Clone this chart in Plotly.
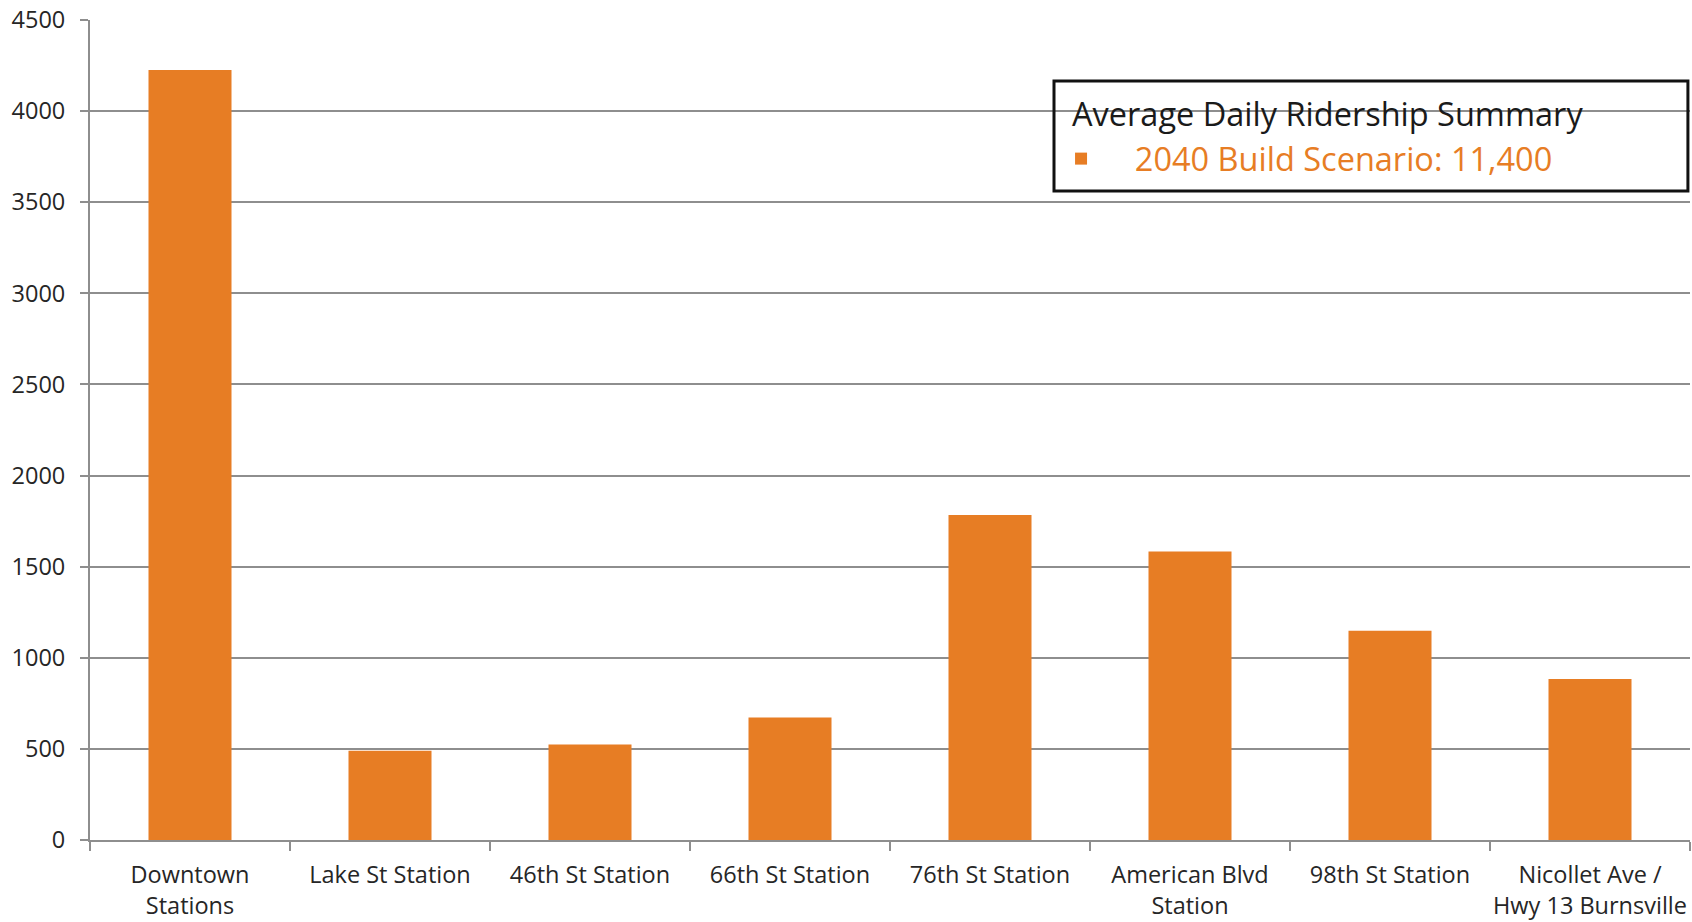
import plotly.graph_objects as go

stations = ["Downtown Stations", "Lake St Station", "46th St Station", "66th St Station",
            "76th St Station", "American Blvd Station", "98th St Station",
            "Nicollet Ave / Hwy 13 Burnsville"]
tick_labels = ["Downtown<br>Stations", "Lake St Station", "46th St Station", "66th St Station",
               "76th St Station", "American Blvd<br>Station", "98th St Station",
               "Nicollet Ave /<br>Hwy 13 Burnsville"]
ridership = [4225, 490, 524, 672, 1784, 1583, 1148, 883]
y_ticks = [0, 500, 1000, 1500, 2000, 2500, 3000, 3500, 4000, 4500]

series_name = "2040 Build Scenario: 11,400"
legend_title = "Average Daily Ridership Summary"

ORANGE = "#E77D24"
GRID = "#8E8E8E"
TEXT = "#262626"
FONT = "Open Sans"

fig = go.Figure()
fig.add_trace(go.Bar(
    x=stations, y=ridership, name="\u00a0\u00a0\u00a0\u00a0" + series_name,
    marker=dict(color=ORANGE, line=dict(width=0)),
    showlegend=True,
))

fig.update_layout(
    width=1692, height=922,
    margin=dict(l=90, r=2, t=20, b=82, autoexpand=False),
    paper_bgcolor="white", plot_bgcolor="white",
    bargap=0.585,
    font=dict(family=FONT, size=23.5, color=TEXT),
    showlegend=True,
    legend=dict(
        x=0.6069, y=0.8305, xanchor="left", yanchor="middle",
        bgcolor="rgba(0,0,0,0)", borderwidth=0,
        font=dict(family=FONT, size=32.5, color=ORANGE),
        itemsizing="constant",
    ),
    annotations=[dict(
        text=legend_title, xref="paper", yref="paper",
        x=0.6128, y=0.8854, xanchor="left", yanchor="middle", showarrow=False,
        font=dict(family=FONT, size=32.5, color="#1a1a1a"),
    )],
    shapes=[dict(
        type="rect", xref="paper", yref="paper",
        x0=0.6025, x1=0.9987, y0=0.7915, y1=0.9256,
        line=dict(color="#111111", width=3), fillcolor="rgba(0,0,0,0)", layer="above",
    )],
)

fig.update_xaxes(
    type="category", automargin=False, tickangle=0,
    tickvals=stations, ticktext=tick_labels,
    tickson="boundaries", ticks="outside", ticklen=9, tickcolor=GRID, tickwidth=2,
    ticklabelstandoff=13,
    showline=True, linecolor=GRID, linewidth=2,
    showgrid=False,
    tickfont=dict(family=FONT, size=23.5, color=TEXT),
)
fig.update_yaxes(
    range=[0, 4500], tickvals=y_ticks, automargin=False,
    ticks="outside", ticklen=8, tickcolor=GRID, tickwidth=2,
    ticklabelstandoff=10,
    showline=True, linecolor=GRID, linewidth=2,
    showgrid=True, gridcolor=GRID, gridwidth=1.5,
    zeroline=False,
    tickfont=dict(family=FONT, size=23.5, color=TEXT),
)

fig.write_html("out.html", config={"displayModeBar": False},
               post_script="document.body.style.margin='0';document.body.style.padding='0';")
